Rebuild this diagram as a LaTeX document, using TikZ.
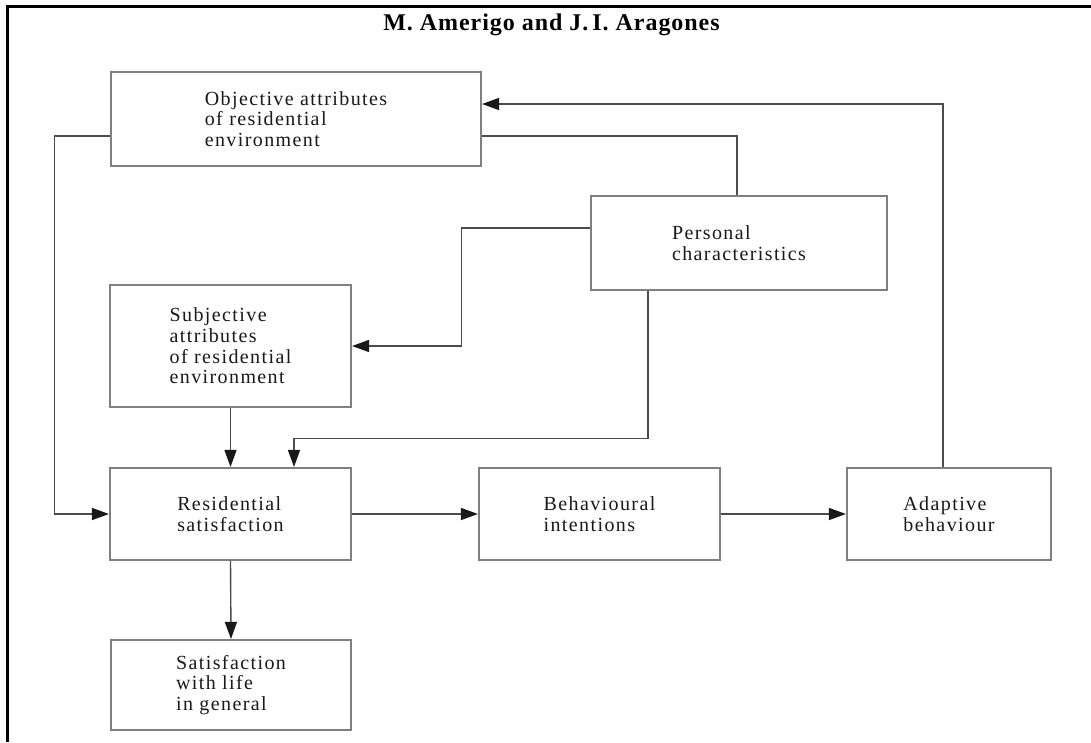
\documentclass[tikz,border=0pt]{standalone}
\usepackage{fontspec}
\setmainfont{Liberation Serif}
\newfontfamily\boxfont[LetterSpace=7]{Liberation Serif}
\newfontfamily\titlefont[LetterSpace=4]{Liberation Serif}
\usetikzlibrary{arrows.meta}
\begin{document}
\begin{tikzpicture}[x=1pt,y=-1pt,
  box/.style={draw=black!50, line width=1.1pt, fill=white, rectangle, inner sep=0pt,
    align=left, font=\boxfont\fontsize{20}{20.6}\selectfont, text=black!90},
  conn/.style={draw=black!70, line width=1.4pt},
  arr/.style={conn, -{Triangle[length=17pt,width=12pt,color=black!90]}, shorten >=0.5pt}]
\useasboundingbox (0,0) rectangle (1091,742);
\fill[white] (0,0) rectangle (1091,742);
% frame
\draw[line width=3pt] (7,742) -- (7,6.5) -- (1091,6.5);
% title
\node[anchor=base, font=\titlefont\bfseries\fontsize{24}{24}\selectfont] (title) at (551.5,30) {M. Amerigo and J.\,I. Aragones};
% boxes
\node[box, minimum width=370pt, minimum height=94pt] (obj) at (296,119) {Objective attributes\\of residential\\environment};
\node[box, minimum width=296pt, minimum height=94pt] (pers) at (739,243) {Personal\\characteristics};
\node[box, minimum width=241pt, minimum height=122pt] (subj) at (230.5,346) {Subjective\\attributes\\of residential\\environment};
\node[box, minimum width=241pt, minimum height=92pt] (res) at (230.5,514) {Residential\\satisfaction};
\node[box, minimum width=241pt, minimum height=92pt] (beh) at (599.5,514) {Behavioural\\intentions};
\node[box, minimum width=204pt, minimum height=92pt] (adapt) at (949,514) {Adaptive\\behaviour};
\node[box, minimum width=240pt, minimum height=90pt] (sat) at (231,685) {Satisfaction\\with life\\in general};
% connectors
\draw[arr] ([yshift=-17pt]obj.west) -- ++(-56,0) |- (res.west);
\draw[conn] ([yshift=-17pt]obj.east) -| ([xshift=-2pt]pers.north);
\draw[arr] ([xshift=-6pt]adapt.north) |- ([yshift=15pt]obj.east);
\draw[arr] ([yshift=15pt]pers.west) -- ++(-129,0) |- (subj.east);
\draw[arr] ([xshift=-91pt]pers.south) -- ++(0,148) -| ([xshift=63.5pt]res.north);
\draw[arr] (subj.south) -- (res.north);
\draw[arr] (res.east) -- (beh.west);
\draw[arr] (beh.east) -- (adapt.west);
\draw[arr] (res.south) -- (sat.north);
\end{tikzpicture}
\end{document}
